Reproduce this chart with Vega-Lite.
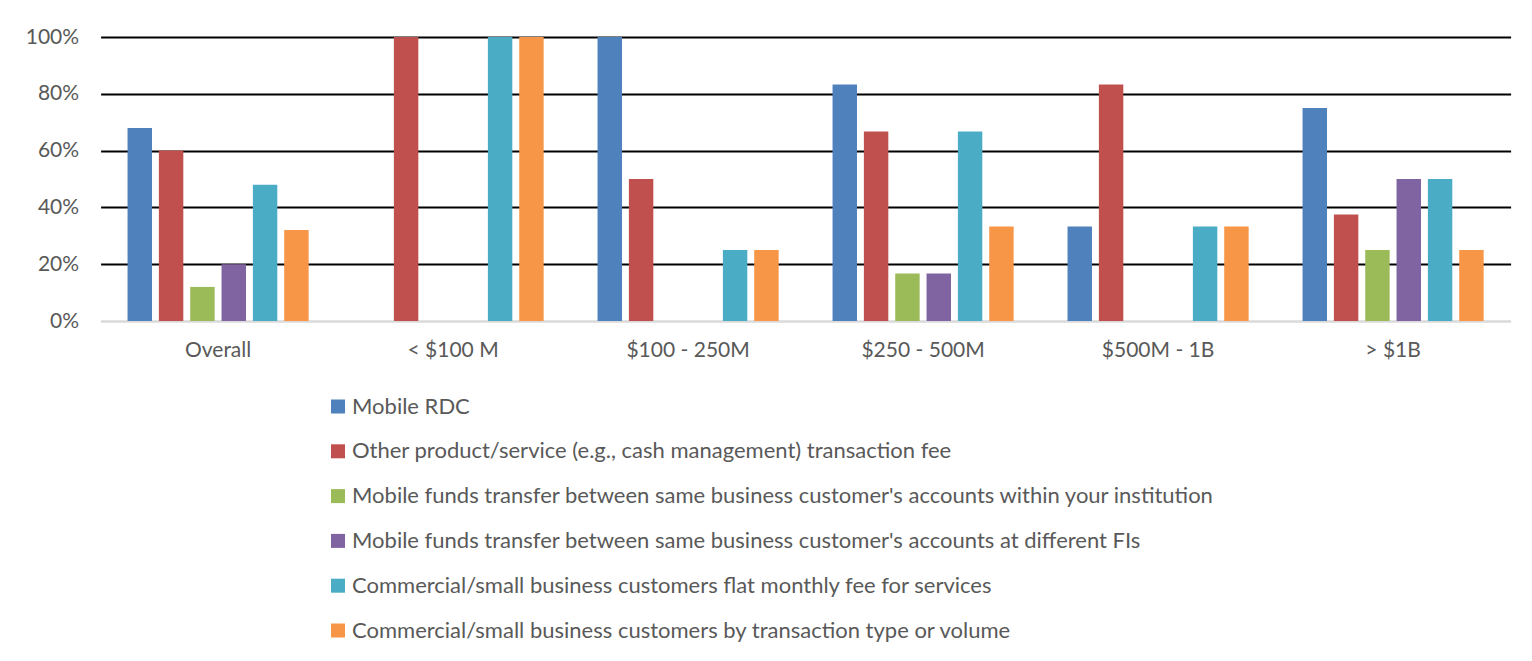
{
  "$schema": "https://vega.github.io/schema/vega-lite/v6.json",
  "width": 1410,
  "height": 284,
  "autosize": {"type": "none"},
  "padding": {"left": 100.6, "top": 37, "right": 21.4, "bottom": 340},
  "background": "white",
  "config": {
    "view": {"stroke": null},
    "font": "Lato",
    "axis": {"labelFont": "Lato", "labelColor": "#595959", "labelFontSize": 21},
    "legend": {"labelFont": "Lato"}
  },
  "data": {
    "values": [
      {"group": "Overall", "series": "Mobile RDC", "value": 0.68},
      {"group": "Overall", "series": "Other product/service (e.g., cash management) transaction fee", "value": 0.60},
      {"group": "Overall", "series": "Mobile funds transfer between same business customer's accounts within your institution", "value": 0.12},
      {"group": "Overall", "series": "Mobile funds transfer between same business customer's accounts at different FIs", "value": 0.20},
      {"group": "Overall", "series": "Commercial/small business customers flat monthly fee for services", "value": 0.48},
      {"group": "Overall", "series": "Commercial/small business customers by transaction type or volume", "value": 0.32},
      {"group": "< $100 M", "series": "Mobile RDC", "value": 0},
      {"group": "< $100 M", "series": "Other product/service (e.g., cash management) transaction fee", "value": 1.0},
      {"group": "< $100 M", "series": "Mobile funds transfer between same business customer's accounts within your institution", "value": 0},
      {"group": "< $100 M", "series": "Mobile funds transfer between same business customer's accounts at different FIs", "value": 0},
      {"group": "< $100 M", "series": "Commercial/small business customers flat monthly fee for services", "value": 1.0},
      {"group": "< $100 M", "series": "Commercial/small business customers by transaction type or volume", "value": 1.0},
      {"group": "$100 - 250M", "series": "Mobile RDC", "value": 1.0},
      {"group": "$100 - 250M", "series": "Other product/service (e.g., cash management) transaction fee", "value": 0.5},
      {"group": "$100 - 250M", "series": "Mobile funds transfer between same business customer's accounts within your institution", "value": 0},
      {"group": "$100 - 250M", "series": "Mobile funds transfer between same business customer's accounts at different FIs", "value": 0},
      {"group": "$100 - 250M", "series": "Commercial/small business customers flat monthly fee for services", "value": 0.25},
      {"group": "$100 - 250M", "series": "Commercial/small business customers by transaction type or volume", "value": 0.25},
      {"group": "$250 - 500M", "series": "Mobile RDC", "value": 0.833},
      {"group": "$250 - 500M", "series": "Other product/service (e.g., cash management) transaction fee", "value": 0.667},
      {"group": "$250 - 500M", "series": "Mobile funds transfer between same business customer's accounts within your institution", "value": 0.167},
      {"group": "$250 - 500M", "series": "Mobile funds transfer between same business customer's accounts at different FIs", "value": 0.167},
      {"group": "$250 - 500M", "series": "Commercial/small business customers flat monthly fee for services", "value": 0.667},
      {"group": "$250 - 500M", "series": "Commercial/small business customers by transaction type or volume", "value": 0.333},
      {"group": "$500M - 1B", "series": "Mobile RDC", "value": 0.333},
      {"group": "$500M - 1B", "series": "Other product/service (e.g., cash management) transaction fee", "value": 0.833},
      {"group": "$500M - 1B", "series": "Mobile funds transfer between same business customer's accounts within your institution", "value": 0},
      {"group": "$500M - 1B", "series": "Mobile funds transfer between same business customer's accounts at different FIs", "value": 0},
      {"group": "$500M - 1B", "series": "Commercial/small business customers flat monthly fee for services", "value": 0.333},
      {"group": "$500M - 1B", "series": "Commercial/small business customers by transaction type or volume", "value": 0.333},
      {"group": "> $1B", "series": "Mobile RDC", "value": 0.75},
      {"group": "> $1B", "series": "Other product/service (e.g., cash management) transaction fee", "value": 0.375},
      {"group": "> $1B", "series": "Mobile funds transfer between same business customer's accounts within your institution", "value": 0.25},
      {"group": "> $1B", "series": "Mobile funds transfer between same business customer's accounts at different FIs", "value": 0.5},
      {"group": "> $1B", "series": "Commercial/small business customers flat monthly fee for services", "value": 0.5},
      {"group": "> $1B", "series": "Commercial/small business customers by transaction type or volume", "value": 0.25}
    ]
  },
  "mark": {"type": "bar", "strokeWidth": 0},
  "encoding": {
    "x": {
      "field": "group",
      "type": "nominal",
      "sort": null,
      "scale": {"paddingInner": 0.2, "paddingOuter": 0.1},
      "axis": {
        "title": null,
        "labelAngle": 0,
        "ticks": false,
        "domain": true,
        "domainColor": "#D9D9D9",
        "domainWidth": 2,
        "labelPadding": 18,
        "labelFontSize": 21
      }
    },
    "xOffset": {
      "field": "series",
      "type": "nominal",
      "sort": null,
      "scale": {"paddingInner": 0.22, "paddingOuter": 0.11}
    },
    "y": {
      "field": "value",
      "type": "quantitative",
      "scale": {"domain": [0, 1], "nice": false},
      "axis": {
        "title": null,
        "values": [0, 0.2, 0.4, 0.6, 0.8, 1.0],
        "format": ".0%",
        "ticks": false,
        "domain": false,
        "grid": true,
        "gridColor": {"condition": {"test": "datum.value === 0", "value": "#D9D9D9"}, "value": "#000000"},
        "gridWidth": 2,
        "labelPadding": 22
      }
    },
    "color": {
      "field": "series",
      "type": "nominal",
      "sort": null,
      "scale": {
        "domain": [
          "Mobile RDC",
          "Other product/service (e.g., cash management) transaction fee",
          "Mobile funds transfer between same business customer's accounts within your institution",
          "Mobile funds transfer between same business customer's accounts at different FIs",
          "Commercial/small business customers flat monthly fee for services",
          "Commercial/small business customers by transaction type or volume"
        ],
        "range": ["#4F81BD", "#C0504D", "#9BBB59", "#8064A2", "#4BACC6", "#F79646"]
      },
      "legend": {
        "title": null,
        "orient": "none",
        "direction": "vertical",
        "legendX": 226.4,
        "legendY": 358.5,
        "padding": 0,
        "symbolType": "square",
        "symbolSize": 196,
        "symbolStrokeWidth": 0,
        "labelFontSize": 22,
        "labelColor": "#595959",
        "labelOffset": 3,
        "labelLimit": 1200,
        "rowPadding": 22.8
      }
    }
  }
}
